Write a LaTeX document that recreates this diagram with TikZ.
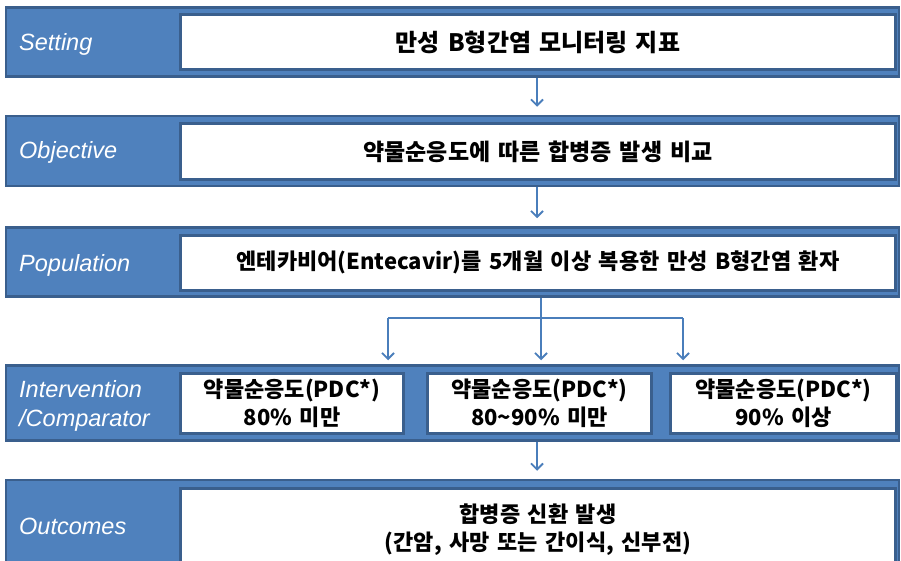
\documentclass[tikz,border=0pt]{standalone}
\usepackage{fontspec}
\setmainfont{Liberation Sans}
\newfontfamily\kr{Noto Sans CJK KR}[WordSpace=1.5]
\usetikzlibrary{arrows.meta}
\definecolor{barblue}{HTML}{4F81BD}
\definecolor{bardark}{HTML}{3A5F8D}
\definecolor{flowblue}{HTML}{4A7EBB}

\begin{document}
\begin{tikzpicture}[x=1pt,y=-1pt,
  band/.style={draw=bardark, line width=2.5pt, fill=barblue, minimum width=893pt},
  card/.style={draw=bardark, line width=3pt, fill=white, inner sep=0pt,
    font=\kr\bfseries\fontsize{22}{28}\selectfont, align=center, text=black},
  tag/.style={anchor=base west, text=white, inner sep=0pt,
    font=\itshape\fontsize{23.5}{28.5}\selectfont, align=left},
  flow/.style={draw=flowblue, line width=1.8pt,
    -{Straight Barb[length=6pt,width=12pt,line width=1.8pt]}},
  link/.style={draw=flowblue, line width=1.8pt}]

\useasboundingbox (0,0) rectangle (901,561);
\clip (0,0) rectangle (901,561);

% horizontal bands
\node[band, minimum height=69pt] (setbar) at (452.5,42) {};
\node[band, minimum height=70pt] (objbar) at (452.5,151) {};
\node[band, minimum height=69pt] (popbar) at (452.5,262) {};
\node[band, minimum height=75pt] (intbar) at (452.5,403) {};
\node[band, minimum height=100pt] (outbar) at (452.5,530) {};

% row titles
\node[tag] (settag) at (19,51) {Setting};
\node[tag] (objtag) at (19,159) {Objective};
\node[tag] (poptag) at (19,271) {Population};
\node[tag] (inttag) at (19,426) {Intervention\\/Comparator};
\node[tag] (outtag) at (19,534) {Outcomes};

% content cards
\node[card, minimum width=715pt, minimum height=55pt,
      font=\kr\bfseries\fontsize{24}{28}\selectfont] (setcard) at (538,42)
  {만성 B형간염 모니터링 지표};
\node[card, minimum width=715pt, minimum height=56pt,
      font=\kr\bfseries\fontsize{23}{28}\selectfont] (objcard) at (538,151.5)
  {약물순응도에 따른 합병증 발생 비교};
\node[card, minimum width=715pt, minimum height=55pt] (popcard) at (538,262.5)
  {엔테카비어(Entecavir)를 5개월 이상 복용한 만성 B형간염 환자};
\node[card, minimum width=223pt, minimum height=60pt] (armA) at (292,403.5)
  {약물순응도(PDC*)\\80\% 미만};
\node[card, minimum width=224pt, minimum height=60pt] (armB) at (539.5,403.5)
  {약물순응도(PDC*)\\80\textasciitilde90\% 미만};
\node[card, minimum width=226pt, minimum height=60pt] (armC) at (783.5,403.5)
  {약물순응도(PDC*)\\90\% 이상};
\node[card, minimum width=715pt, minimum height=84pt] (outcard) at (538,530)
  {합병증 신환 발생\\(간암, 사망 또는 간이식, 신부전)};

% connector positions
\coordinate (ax) at (537,0);
\coordinate (split) at (541,318);
\coordinate (lx) at (388,318);
\coordinate (rx) at (683,318);

% connectors
\draw[flow, shorten >=8pt] (setbar.south -| ax) -- (objbar.north -| ax);
\draw[flow, shorten >=8pt] (objbar.south -| ax) -- (popbar.north -| ax);
\draw[link] (popbar.south -| split) -- (split);
\draw[link] (lx) -- (rx);
\draw[flow, shorten >=4pt] (lx) -- (intbar.north -| lx);
\draw[flow, shorten >=4pt] (split) -- (intbar.north -| split);
\draw[flow, shorten >=4pt] (rx) -- (intbar.north -| rx);
\draw[flow, shorten >=8pt] (intbar.south -| ax) -- (outbar.north -| ax);
\end{tikzpicture}
\end{document}
